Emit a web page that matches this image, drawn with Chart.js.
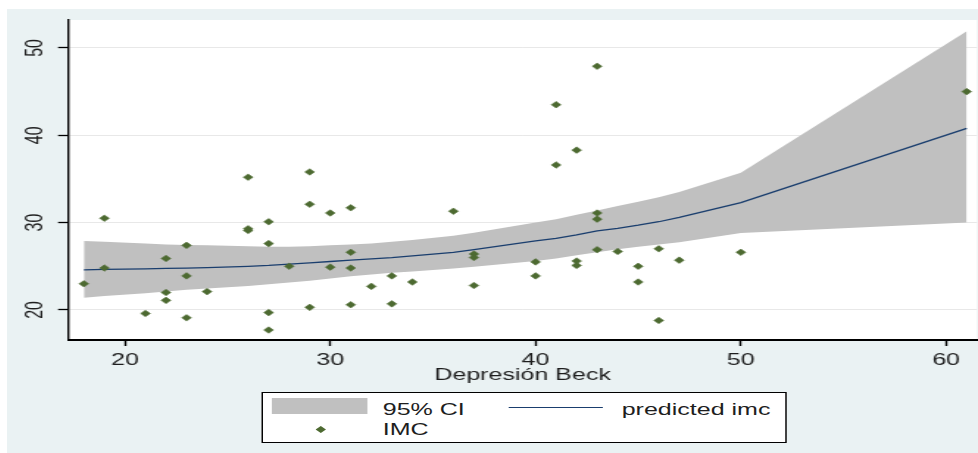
<!DOCTYPE html>
<html>
<head>
<meta charset="utf-8">
<script src="https://cdn.jsdelivr.net/npm/chart.js@4.4.0/dist/chart.umd.min.js"></script>
<style>
  html, body { margin: 0; padding: 0; background: #fff; }
  /* the reference is stretched sideways, so the whole graph is drawn narrow and scaled */
  #frame {
    position: absolute; left: 7px; top: 9px; width: 660px; height: 444px;
    background: #eaf2f3; transform: scaleX(1.4712); transform-origin: 0 0;
    overflow: hidden; font-family: "Liberation Sans", Arial, sans-serif; color: #1e1e1e;
  }
  #chart { position: absolute; left: 0; top: 0; }
  #legend {
    position: absolute; left: 173px; top: 383px; width: 357px; height: 51px;
    box-sizing: border-box; border: 1px solid #000; background: #fff;
  }
  #legend .sw, #legend .txt { position: absolute; }
  #legend .txt { font-size: 17px; line-height: 17px; white-space: nowrap; }
  .band { left: 6px; top: 5px; width: 65px; height: 16px; background: #c0c0c0; }
  .fit { left: 166.5px; top: 13.7px; width: 64px; height: 1.2px; background: #1a3e6e; }
  .dot { left: 36.5px; top: 33.7px; width: 4.6px; height: 4.6px; background: #4d6a31; transform: rotate(45deg); }
</style>
</head>
<body>
<div id="frame">
  <canvas id="chart" width="660" height="383"></canvas>
  <div id="legend">
    <div class="sw band"></div>
    <div class="txt" style="left:81.4px; top:7.5px">95% CI</div>
    <div class="sw fit"></div>
    <div class="txt" style="left:243.8px; top:7.5px">predicted imc</div>
    <div class="sw dot"></div>
    <div class="txt" style="left:81.4px; top:27.8px">IMC</div>
  </div>
</div>
<script>
// observed points: Depresión Beck (x) and IMC (y)
const beck = [18, 19, 19, 21, 22, 22, 22, 23, 23, 23, 24, 26, 26, 26, 27, 27, 27, 27, 28,
  29, 29, 29, 30, 30, 31, 31, 31, 31, 32, 33, 33, 34, 36, 37, 37, 37, 40, 40, 41, 41,
  42, 42, 42, 43, 43, 43, 43, 44, 45, 45, 46, 46, 47, 50, 61];
const imc = [23.0, 30.5, 24.8, 19.6, 25.9, 22.0, 21.1, 27.4, 23.9, 19.1, 22.1, 35.2, 29.3, 29.1,
  30.1, 27.6, 19.7, 17.7, 25.0, 35.8, 32.1, 20.3, 31.1, 24.9, 31.7, 26.6, 24.8, 20.6, 22.7,
  23.9, 20.7, 23.2, 31.3, 26.4, 26.0, 22.8, 25.5, 23.9, 43.5, 36.6, 38.3, 25.6, 25.1, 47.9,
  31.1, 30.4, 26.9, 26.7, 25.0, 23.2, 27.0, 18.8, 25.7, 26.6, 45.0];

// prediction and 95% CI, read at each distinct x
const fitX = [18, 19, 21, 22, 23, 24, 26, 27, 28, 29, 30, 31, 32, 33, 34, 36, 37, 40, 41, 42,
  43, 44, 45, 46, 47, 50, 61];
const fitY = [24.6, 24.65, 24.7, 24.75, 24.8, 24.85, 25.0, 25.1, 25.25, 25.4, 25.55, 25.7, 25.85,
  26.0, 26.2, 26.6, 26.9, 27.9, 28.2, 28.6, 29.05, 29.35, 29.7, 30.1, 30.6, 32.3, 40.8];
const ciHigh = [27.9, 27.8, 27.6, 27.5, 27.45, 27.4, 27.3, 27.25, 27.25, 27.3, 27.4, 27.5, 27.6,
  27.8, 28.0, 28.5, 28.85, 30.0, 30.4, 30.9, 31.4, 31.9, 32.4, 32.9, 33.5, 35.7, 51.9];
const ciLow = [21.4, 21.6, 21.9, 22.1, 22.3, 22.45, 22.75, 22.95, 23.15, 23.35, 23.6, 23.85, 24.05,
  24.25, 24.4, 24.75, 24.95, 25.6, 25.9, 26.25, 26.6, 26.95, 27.25, 27.5, 27.75, 28.8, 30.0];

const xTicks = [20, 30, 40, 50, 60];
const yTicks = [20, 30, 40, 50];

const GREEN = '#4d6a31', NAVY = '#1a3e6e', GRAY = '#c0c0c0', INK = '#1e1e1e';

const xy = (xs, ys) => xs.map((x, i) => ({ x: x, y: ys[i] }));

// white plot region on the bluish graph region
const plotBg = {
  id: 'plotBg',
  beforeDraw(c) {
    const { ctx, chartArea: a } = c;
    ctx.save();
    ctx.fillStyle = '#fff';
    ctx.fillRect(a.left, a.top, a.right - a.left, a.bottom - a.top);
    ctx.restore();
  }
};

new Chart(document.getElementById('chart'), {
  data: {
    datasets: [
      {
        type: 'scatter', label: 'IMC', data: xy(beck, imc),
        pointStyle: 'rectRot', pointRadius: 3.3, backgroundColor: GREEN,
        borderColor: GREEN, borderWidth: 0.5
      },
      {
        type: 'line', label: 'predicted imc', data: xy(fitX, fitY),
        borderColor: NAVY, borderWidth: 1.3, pointRadius: 0, fill: false, tension: 0
      },
      {
        type: 'line', label: '95% CI', data: xy(fitX, ciHigh),
        borderColor: 'rgba(0,0,0,0)', borderWidth: 0, pointRadius: 0,
        backgroundColor: GRAY, fill: 3, tension: 0
      },
      {
        type: 'line', label: 'ci low', data: xy(fitX, ciLow),
        borderColor: 'rgba(0,0,0,0)', borderWidth: 0, pointRadius: 0, fill: false, tension: 0
      }
    ]
  },
  options: {
    responsive: false,
    animation: false,
    layout: { autoPadding: false, padding: { top: 11, right: 0.7, left: 0, bottom: 0 } },
    plugins: { legend: { display: false }, tooltip: { enabled: false } },
    scales: {
      x: {
        type: 'linear', min: 17.23, max: 61.5,
        afterBuildTicks: s => { s.ticks = xTicks.map(v => ({ value: v })); },
        afterFit: s => { s.height = 52; s.paddingLeft = 0; s.paddingRight = 0; },
        ticks: { font: { size: 17, family: 'Liberation Sans' }, color: INK, padding: 4, maxRotation: 0, includeBounds: false },
        grid: { drawOnChartArea: false, tickLength: 6, tickColor: '#000', tickWidth: 1.4 },
        border: { color: '#000', width: 2 },
        title: {
          display: true, text: 'Depresión Beck', color: INK,
          font: { size: 17, family: 'Liberation Sans' }, padding: { top: 0, bottom: 6.8 }
        }
      },
      y: {
        type: 'linear', min: 16.56, max: 53.2,
        afterBuildTicks: s => { s.ticks = yTicks.map(v => ({ value: v })); },
        afterFit: s => { s.width = 41.5; s.paddingTop = 0; s.paddingBottom = 0; },
        ticks: {
          font: { size: 16, family: 'Liberation Sans' }, color: INK, padding: 6.2,
          minRotation: 90, maxRotation: 90, crossAlign: 'center', includeBounds: false
        },
        grid: { color: '#e8e8e8', lineWidth: 1, tickLength: 6.8, tickColor: '#000', tickWidth: 1.3 },
        border: { color: '#000', width: 1.4 }
      }
    }
  },
  plugins: [plotBg]
});
</script>
</body>
</html>
